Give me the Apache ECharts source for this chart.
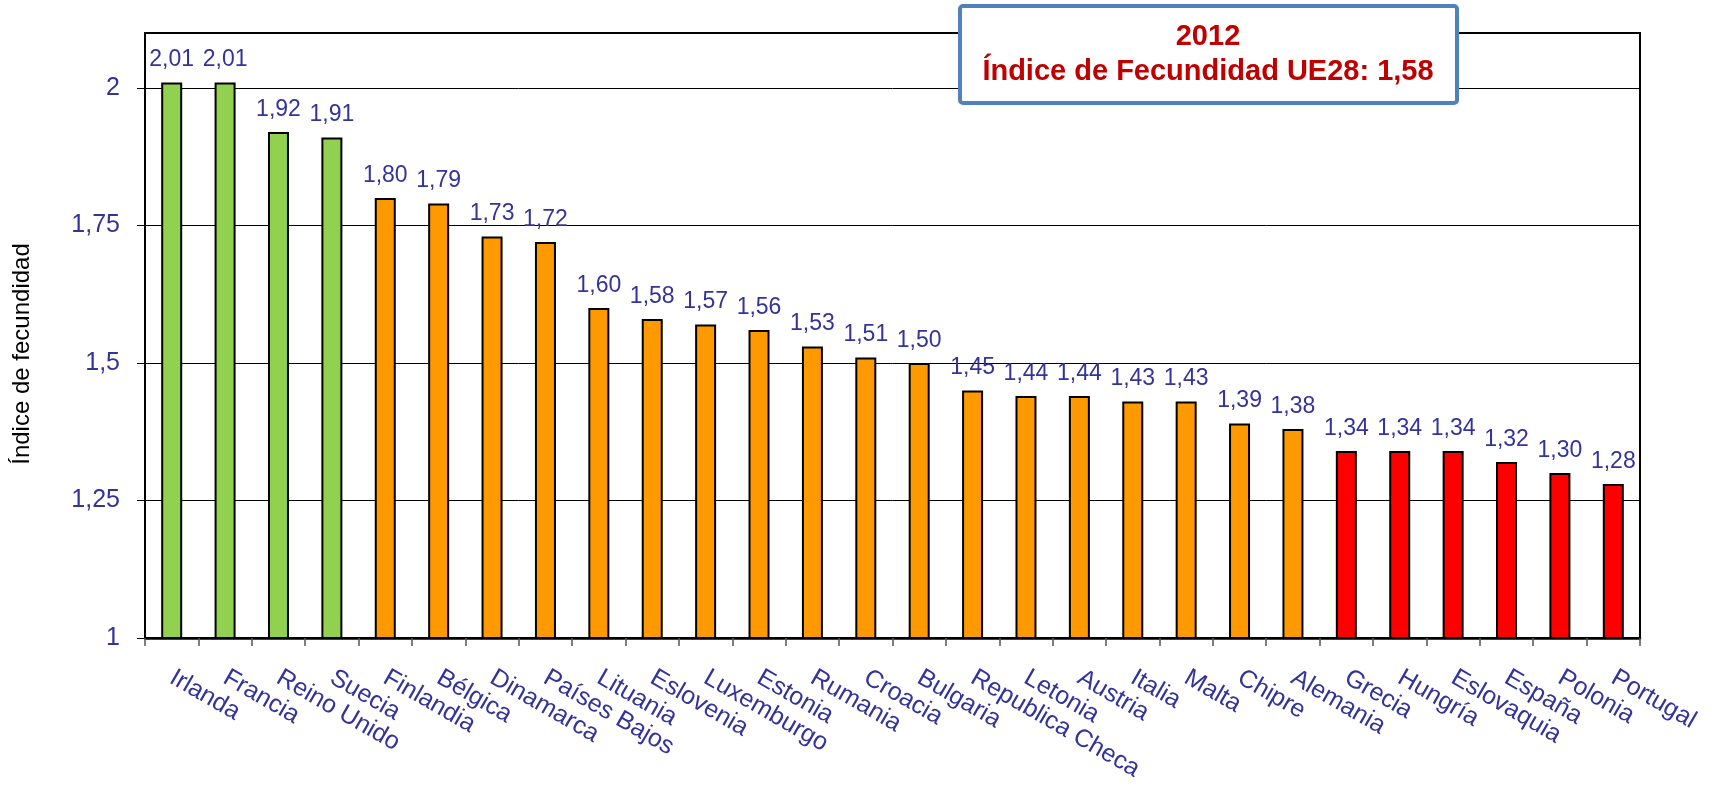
<!DOCTYPE html>
<html>
<head>
<meta charset="utf-8">
<style>
  html, body { margin: 0; padding: 0; background: #fff; }
  #chart { width: 1712px; height: 786px; }
</style>
<script src="https://cdn.jsdelivr.net/npm/echarts@6/dist/echarts.min.js"></script>
</head>
<body>
<div id="chart"></div>
<script>
// paises ordenados de mayor a menor indice de fecundidad (2012)
const paises = [
  "Irlanda", "Francia", "Reino Unido", "Suecia", "Finlandia", "Bélgica", "Dinamarca",
  "Países Bajos", "Lituania", "Eslovenia", "Luxemburgo", "Estonia", "Rumania", "Croacia",
  "Bulgaria", "Republica Checa", "Letonia", "Austria", "Italia", "Malta", "Chipre",
  "Alemania", "Grecia", "Hungría", "Eslovaquia", "España", "Polonia", "Portugal"
];
const indice = [
  2.01, 2.01, 1.92, 1.91, 1.80, 1.79, 1.73,
  1.72, 1.60, 1.58, 1.57, 1.56, 1.53, 1.51,
  1.50, 1.45, 1.44, 1.44, 1.43, 1.43, 1.39,
  1.38, 1.34, 1.34, 1.34, 1.32, 1.30, 1.28
];
// tramo de cada pais (define el color de la barra)
const tramo = [
  "alto", "alto", "alto", "alto", "medio", "medio", "medio",
  "medio", "medio", "medio", "medio", "medio", "medio", "medio",
  "medio", "medio", "medio", "medio", "medio", "medio", "medio",
  "medio", "bajo", "bajo", "bajo", "bajo", "bajo", "bajo"
];
const marcasY = [1, 1.25, 1.5, 1.75, 2];
const titulo = ["2012", "Índice de Fecundidad UE28: 1,58"];
const nombreEjeY = "Índice de fecundidad";

const colores = { alto: "#92D050", medio: "#FF9900", bajo: "#FF0000" };
const azul = "#333399";
const fuente = '"Liberation Sans", Arial, sans-serif';
const coma = v => String(v).replace(".", ",");

const myChart = echarts.init(document.getElementById("chart"));
myChart.setOption({
  animation: false,
  textStyle: { fontFamily: fuente },
  grid: {
    left: 145, right: 72, top: 33, bottom: 148,
    show: true, borderColor: "#000", borderWidth: 2
  },
  xAxis: {
    type: "category",
    data: paises,
    axisLine: { lineStyle: { color: "#000", width: 2.5 } },
    axisTick: { show: true, length: 8, lineStyle: { color: "#555", width: 1.5 } },
    axisLabel: {
      rotate: -30,
      margin: 38,
      color: azul,
      fontSize: 25,
      fontFamily: fuente,
      interval: 0
    }
  },
  yAxis: {
    type: "value",
    min: 1,
    max: 2.1,
    interval: 0.25,
    axisLine: { show: true, lineStyle: { color: "#000", width: 2 } },
    axisTick: {
      show: true, length: 8, customValues: marcasY,
      lineStyle: { color: "#000", width: 1 }
    },
    axisLabel: {
      customValues: marcasY,
      margin: 25,
      color: azul,
      fontSize: 25,
      fontFamily: fuente,
      formatter: v => coma(v)
    },
    splitLine: { lineStyle: { color: "#000", width: 1 } }
  },
  series: [
    {
      type: "bar",
      barWidth: 21,
      data: indice.map((v, i) => ({
        value: v,
        itemStyle: { color: colores[tramo[i]] }
      })),
      itemStyle: { borderColor: "#000", borderWidth: 2 },
      label: {
        show: true,
        position: "top",
        distance: 11,
        color: azul,
        fontSize: 23,
        fontFamily: fuente,
        formatter: p => p.value.toFixed(2).replace(".", ",")
      }
    }
  ],
  graphic: [
    {
      type: "text",
      z: 100,
      x: 22,
      y: 354,
      rotation: Math.PI / 2,
      style: {
        text: nombreEjeY,
        fill: "#000",
        font: "24px " + fuente,
        textAlign: "center",
        textVerticalAlign: "middle"
      }
    },
    {
      type: "rect",
      z: 100,
      shape: { x: 960, y: 6, width: 497, height: 97, r: 3 },
      style: { fill: "#fff", stroke: "#4F81BD", lineWidth: 4 }
    },
    {
      type: "text",
      z: 101,
      x: 1208,
      y: 37,
      style: {
        text: titulo[0],
        fill: "#C00000",
        font: "bold 29px " + fuente,
        textAlign: "center",
        textVerticalAlign: "middle"
      }
    },
    {
      type: "text",
      z: 101,
      x: 1208,
      y: 72,
      style: {
        text: titulo[1],
        fill: "#C00000",
        font: "bold 29px " + fuente,
        textAlign: "center",
        textVerticalAlign: "middle"
      }
    }
  ]
});
window.addEventListener("resize", function() {
  myChart.resize();
});
</script>
</body>
</html>
